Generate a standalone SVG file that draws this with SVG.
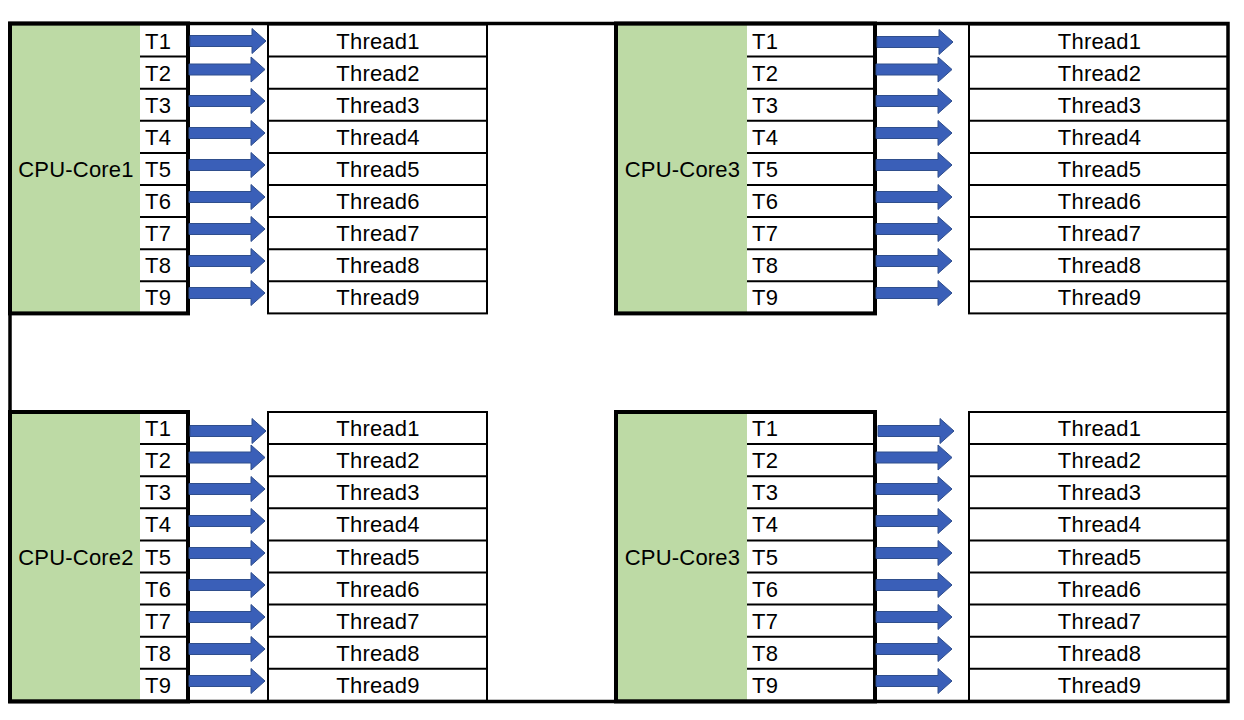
<svg xmlns="http://www.w3.org/2000/svg" xmlns:xlink="http://www.w3.org/1999/xlink" width="1244" height="720" viewBox="0 0 1244 720">
<style>
.green{fill:#BDDAA5;stroke:none}
.white{fill:#FFFFFF;stroke:none}
.thin{fill:none;stroke:#000;stroke-width:2}
.thick{fill:none;stroke:#000;stroke-width:4}
.frame{fill:none;stroke:#000;stroke-width:3.5}
text{font-family:"Liberation Sans",Arial,sans-serif;font-size:22px;fill:#000;letter-spacing:0.2px}
.mid{text-anchor:middle}
.arrow{fill:#3A5FB8;stroke:#2F4E8C;stroke-width:1}
</style>
<defs>
<path id="arr" d="M0 -5.5H62V-12.5L76 0L62 12.5V5.5H0Z"/>
</defs>
<rect x="0" y="0" width="1244" height="720" fill="#FFFFFF"/>

<g id="core1">
<rect class="green" x="12" y="24.5" width="128" height="288.9"/>
<rect class="white" x="140" y="24.5" width="48" height="288.9"/>
<path class="thin" d="M140 56.6H188M140 88.7H188M140 120.8H188M140 152.9H188M140 185H188M140 217.1H188M140 249.2H188M140 281.3H188"/>
<text class="mid" x="76" y="177">CPU-Core1</text>
<text x="145" y="48.5">T1</text><text x="145" y="80.7">T2</text><text x="145" y="112.8">T3</text><text x="145" y="144.9">T4</text><text x="145" y="177">T5</text><text x="145" y="209.1">T6</text><text x="145" y="241.2">T7</text><text x="145" y="273.3">T8</text><text x="145" y="305.4">T9</text>
<rect class="thick" x="10" y="23.5" width="178" height="289.9"/>
</g>

<g id="threads1">
<rect class="white" x="268" y="24.5" width="219" height="288.9"/>
<path class="thin" d="M268 56.6H487M268 88.7H487M268 120.8H487M268 152.9H487M268 185H487M268 217.1H487M268 249.2H487M268 281.3H487"/>
<rect class="thin" x="268" y="24.5" width="219" height="288.9"/>
<text class="mid" x="378" y="48.5">Thread1</text><text class="mid" x="378" y="80.7">Thread2</text><text class="mid" x="378" y="112.8">Thread3</text><text class="mid" x="378" y="144.9">Thread4</text><text class="mid" x="378" y="177">Thread5</text><text class="mid" x="378" y="209.1">Thread6</text><text class="mid" x="378" y="241.2">Thread7</text><text class="mid" x="378" y="273.3">Thread8</text><text class="mid" x="378" y="305.4">Thread9</text>
</g>

<g id="core3a">
<rect class="green" x="618" y="24.5" width="129" height="288.9"/>
<rect class="white" x="747" y="24.5" width="128" height="288.9"/>
<path class="thin" d="M747 56.6H875M747 88.7H875M747 120.8H875M747 152.9H875M747 185H875M747 217.1H875M747 249.2H875M747 281.3H875"/>
<text class="mid" x="682.5" y="177">CPU-Core3</text>
<text x="752" y="48.5">T1</text><text x="752" y="80.7">T2</text><text x="752" y="112.8">T3</text><text x="752" y="144.9">T4</text><text x="752" y="177">T5</text><text x="752" y="209.1">T6</text><text x="752" y="241.2">T7</text><text x="752" y="273.3">T8</text><text x="752" y="305.4">T9</text>
<rect class="thick" x="616" y="23.5" width="259" height="289.9"/>
</g>

<g id="threads3a">
<rect class="white" x="969" y="24.5" width="259" height="288.9"/>
<path class="thin" d="M969 56.6H1228M969 88.7H1228M969 120.8H1228M969 152.9H1228M969 185H1228M969 217.1H1228M969 249.2H1228M969 281.3H1228"/>
<rect class="thin" x="969" y="24.5" width="259" height="288.9"/>
<text class="mid" x="1099.5" y="48.5">Thread1</text><text class="mid" x="1099.5" y="80.7">Thread2</text><text class="mid" x="1099.5" y="112.8">Thread3</text><text class="mid" x="1099.5" y="144.9">Thread4</text><text class="mid" x="1099.5" y="177">Thread5</text><text class="mid" x="1099.5" y="209.1">Thread6</text><text class="mid" x="1099.5" y="241.2">Thread7</text><text class="mid" x="1099.5" y="273.3">Thread8</text><text class="mid" x="1099.5" y="305.4">Thread9</text>
</g>

<g id="core2">
<rect class="green" x="12" y="412" width="128" height="288.9"/>
<rect class="white" x="140" y="412" width="48" height="288.9"/>
<path class="thin" d="M140 444.1H188M140 476.2H188M140 508.3H188M140 540.4H188M140 572.5H188M140 604.6H188M140 636.7H188M140 668.8H188"/>
<text class="mid" x="76" y="564.5">CPU-Core2</text>
<text x="145" y="436">T1</text><text x="145" y="468.2">T2</text><text x="145" y="500.3">T3</text><text x="145" y="532.4">T4</text><text x="145" y="564.5">T5</text><text x="145" y="596.6">T6</text><text x="145" y="628.7">T7</text><text x="145" y="660.8">T8</text><text x="145" y="692.9">T9</text>
<rect class="thick" x="10" y="412" width="178" height="289.4"/>
</g>

<g id="threads2">
<rect class="white" x="268" y="412" width="219" height="288.9"/>
<path class="thin" d="M268 444.1H487M268 476.2H487M268 508.3H487M268 540.4H487M268 572.5H487M268 604.6H487M268 636.7H487M268 668.8H487"/>
<rect class="thin" x="268" y="412" width="219" height="288.9"/>
<text class="mid" x="378" y="436">Thread1</text><text class="mid" x="378" y="468.2">Thread2</text><text class="mid" x="378" y="500.3">Thread3</text><text class="mid" x="378" y="532.4">Thread4</text><text class="mid" x="378" y="564.5">Thread5</text><text class="mid" x="378" y="596.6">Thread6</text><text class="mid" x="378" y="628.7">Thread7</text><text class="mid" x="378" y="660.8">Thread8</text><text class="mid" x="378" y="692.9">Thread9</text>
</g>

<g id="core3b">
<rect class="green" x="618" y="412" width="129" height="288.9"/>
<rect class="white" x="747" y="412" width="128" height="288.9"/>
<path class="thin" d="M747 444.1H875M747 476.2H875M747 508.3H875M747 540.4H875M747 572.5H875M747 604.6H875M747 636.7H875M747 668.8H875"/>
<text class="mid" x="682.5" y="564.5">CPU-Core3</text>
<text x="752" y="436">T1</text><text x="752" y="468.2">T2</text><text x="752" y="500.3">T3</text><text x="752" y="532.4">T4</text><text x="752" y="564.5">T5</text><text x="752" y="596.6">T6</text><text x="752" y="628.7">T7</text><text x="752" y="660.8">T8</text><text x="752" y="692.9">T9</text>
<rect class="thick" x="616" y="412" width="259" height="289.4"/>
</g>

<g id="threads3b">
<rect class="white" x="969" y="412" width="259" height="288.9"/>
<path class="thin" d="M969 444.1H1228M969 476.2H1228M969 508.3H1228M969 540.4H1228M969 572.5H1228M969 604.6H1228M969 636.7H1228M969 668.8H1228"/>
<rect class="thin" x="969" y="412" width="259" height="288.9"/>
<text class="mid" x="1099.5" y="436">Thread1</text><text class="mid" x="1099.5" y="468.2">Thread2</text><text class="mid" x="1099.5" y="500.3">Thread3</text><text class="mid" x="1099.5" y="532.4">Thread4</text><text class="mid" x="1099.5" y="564.5">Thread5</text><text class="mid" x="1099.5" y="596.6">Thread6</text><text class="mid" x="1099.5" y="628.7">Thread7</text><text class="mid" x="1099.5" y="660.8">Thread8</text><text class="mid" x="1099.5" y="692.9">Thread9</text>
</g>

<g id="connectors" class="arrow">
<use xlink:href="#arr" x="190" y="41"/><use xlink:href="#arr" x="189" y="69.5"/><use xlink:href="#arr" x="189" y="101"/><use xlink:href="#arr" x="189" y="133"/><use xlink:href="#arr" x="189" y="165"/><use xlink:href="#arr" x="189" y="197"/><use xlink:href="#arr" x="189" y="229"/><use xlink:href="#arr" x="189" y="261"/><use xlink:href="#arr" x="189" y="293"/>
<use xlink:href="#arr" x="877" y="42"/><use xlink:href="#arr" x="876" y="69.5"/><use xlink:href="#arr" x="876" y="101"/><use xlink:href="#arr" x="876" y="133"/><use xlink:href="#arr" x="876" y="165"/><use xlink:href="#arr" x="876" y="197"/><use xlink:href="#arr" x="876" y="229"/><use xlink:href="#arr" x="876" y="261"/><use xlink:href="#arr" x="876" y="293"/>
<use xlink:href="#arr" x="190" y="431"/><use xlink:href="#arr" x="189" y="457.5"/><use xlink:href="#arr" x="189" y="489"/><use xlink:href="#arr" x="189" y="521"/><use xlink:href="#arr" x="189" y="553"/><use xlink:href="#arr" x="189" y="585"/><use xlink:href="#arr" x="189" y="617"/><use xlink:href="#arr" x="189" y="649"/><use xlink:href="#arr" x="189" y="681"/>
<use xlink:href="#arr" x="878" y="431"/><use xlink:href="#arr" x="876" y="457.5"/><use xlink:href="#arr" x="876" y="489"/><use xlink:href="#arr" x="876" y="521"/><use xlink:href="#arr" x="876" y="553"/><use xlink:href="#arr" x="876" y="585"/><use xlink:href="#arr" x="876" y="617"/><use xlink:href="#arr" x="876" y="649"/><use xlink:href="#arr" x="876" y="681"/>
</g>

<rect class="frame" x="10" y="23.5" width="1218" height="678"/>
</svg>
